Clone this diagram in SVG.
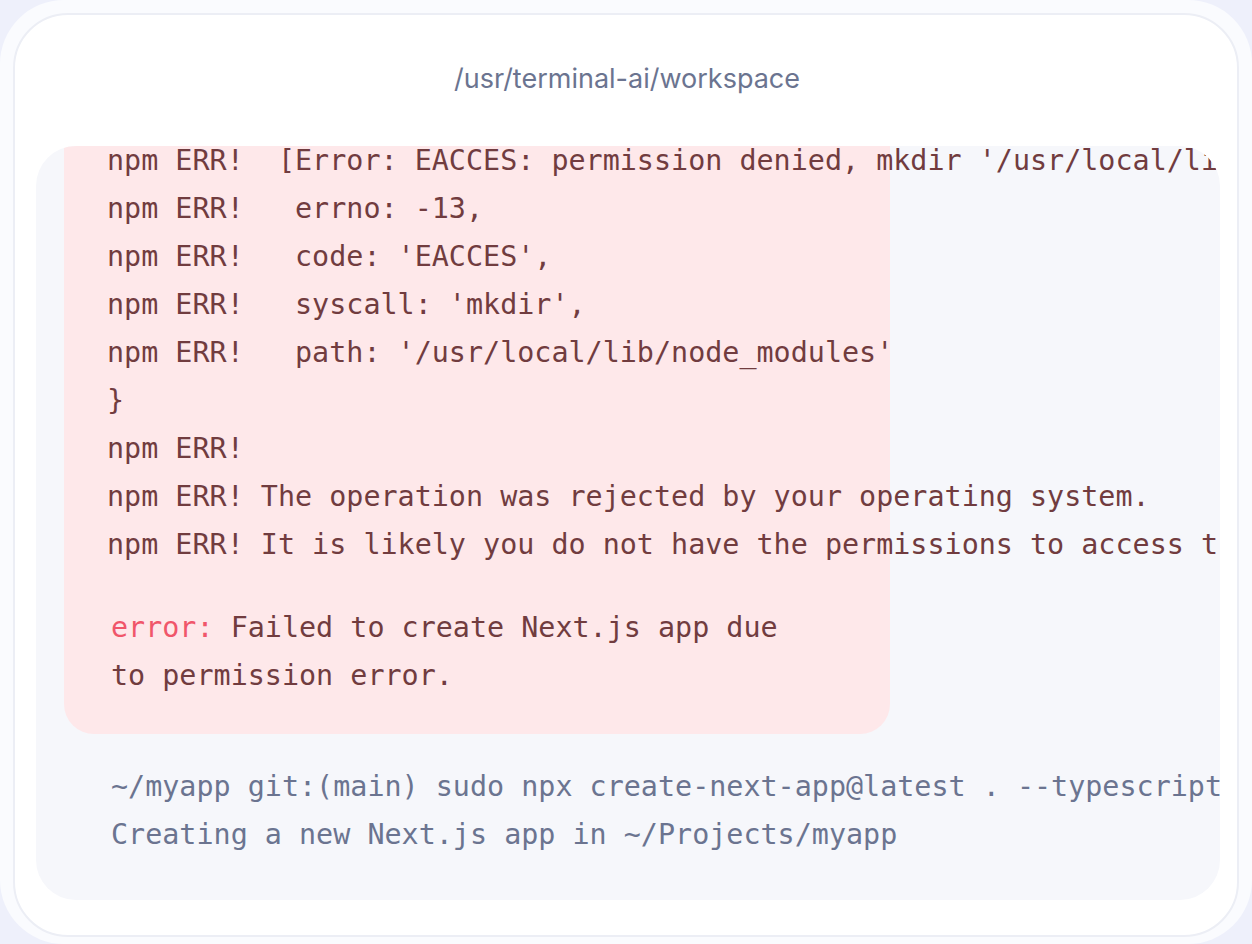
<svg xmlns="http://www.w3.org/2000/svg" width="1252" height="944" viewBox="0 0 1252 944">
<style>
.m{font-family:"DejaVu Sans Mono","Liberation Mono",monospace;font-size:28.4px}
.e{fill:#713c3f}
.g{fill:#6b7490}
</style>
<defs><clipPath id="c"><rect x="36" y="146" width="1184" height="754" rx="40"/></clipPath></defs>
<rect width="1252" height="944" fill="#eef0fb"/>
<rect x="0" y="0" width="1252" height="944" rx="64" fill="#fafbfe"/>
<rect x="14" y="14" width="1224" height="922" rx="54" fill="#ffffff" stroke="#eceef5" stroke-width="2"/>
<text x="627" y="88" text-anchor="middle" font-family="Inter,'Noto Sans',sans-serif" font-size="27" fill="#6b7490">/usr/terminal-ai/workspace</text>
<g id="terminal" clip-path="url(#c)">
<rect x="36" y="146" width="1184" height="754" fill="#f6f7fb"/>
<path d="M64 146 H890 V704 A30 30 0 0 1 860 734 H94 A30 30 0 0 1 64 704 Z" fill="#fee8ea"/>
<g class="m e">
<text x="107" y="170">npm ERR!&#160; [Error: EACCES: permission denied, mkdir '/usr/local/lib</text>
<text x="107" y="218">npm ERR!&#160;&#160; errno: -13,</text>
<text x="107" y="266">npm ERR!&#160;&#160; code: 'EACCES',</text>
<text x="107" y="314">npm ERR!&#160;&#160; syscall: 'mkdir',</text>
<text x="107" y="362">npm ERR!&#160;&#160; path: '/usr/local/lib/node_modules'</text>
<text x="107" y="410">}</text>
<text x="107" y="458">npm ERR!</text>
<text x="107" y="506">npm ERR! The operation was rejected by your operating system.</text>
<text x="107" y="554">npm ERR! It is likely you do not have the permissions to access this</text>
<text x="111" y="637"><tspan fill="#f0566a">error:</tspan> Failed to create Next.js app due</text>
<text x="111" y="685">to permission error.</text>
</g>
<g class="m g">
<text x="111" y="796">~/myapp git:(main) sudo npx create-next-app@latest . --typescript</text>
<text x="111" y="844">Creating a new Next.js app in ~/Projects/myapp</text>
</g>
</g>
</svg>
